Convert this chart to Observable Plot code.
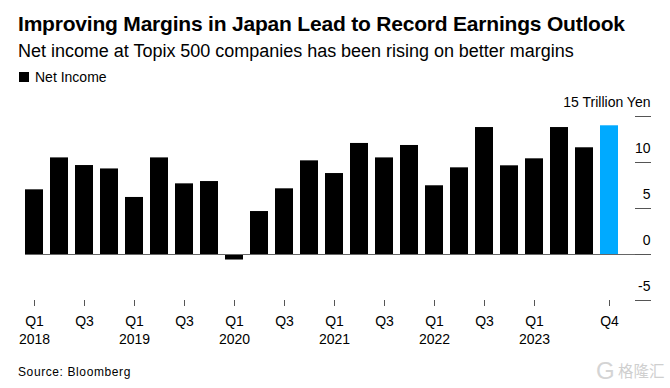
<!DOCTYPE html>
<html><head><meta charset="utf-8">
<script src="https://cdn.jsdelivr.net/npm/d3@7"></script>
<script src="https://cdn.jsdelivr.net/npm/@observablehq/plot@0.6"></script>
<style>
html,body{margin:0;padding:0;background:#fff;width:670px;height:388px;overflow:hidden;font-family:"Liberation Sans",Arial,sans-serif;color:#000}
#wrap{position:relative;width:670px;height:388px}
.t{position:absolute;white-space:nowrap}
#title{left:18px;top:11px;font-size:21px;font-weight:700;line-height:26px;letter-spacing:-.2px}
#sub{left:18px;top:39px;font-size:18px;line-height:24px;letter-spacing:-.02px}
#legend{left:19px;top:68px;font-size:14px;line-height:18px;display:flex;align-items:center}
#legend i{display:inline-block;width:10px;height:10px;background:#000;margin-right:6px}
#chart{position:absolute;left:0;top:92px}
#source{left:18px;top:364px;font-size:12px;line-height:16px;letter-spacing:.6px}
#mark{left:618px;top:360px;font-size:15.5px;line-height:20px;font-family:"Noto Sans CJK SC";font-weight:400;color:#cfcfcf}
#markg{left:596px;top:358px;font-size:24px;line-height:26px;font-weight:400;color:#d4d4d4}
svg text{font-family:"Liberation Sans",Arial,sans-serif}
</style></head><body>
<div id="wrap">
<div class="t" id="title">Improving Margins in Japan Lead to Record Earnings Outlook</div>
<div class="t" id="sub">Net income at Topix 500 companies has been rising on better margins</div>
<div class="t" id="legend"><i></i>Net Income</div>
<div id="chart"></div>
<div class="t" id="source">Source: Bloomberg</div>
<div class="t" id="markg">G</div>
<div class="t" id="mark">格隆汇</div>
</div>
<script>
const quarters = ["2018Q1","2018Q2","2018Q3","2018Q4","2019Q1","2019Q2","2019Q3","2019Q4","2020Q1","2020Q2","2020Q3","2020Q4","2021Q1","2021Q2","2021Q3","2021Q4","2022Q1","2022Q2","2022Q3","2022Q4","2023Q1","2023Q2","2023Q3","2023Q4"];
const netIncome = [7.03,10.5,9.67,9.3,6.2,10.5,7.68,7.93,-0.6,4.67,7.14,10.18,8.8,12.07,10.5,11.85,7.47,9.42,13.8,9.64,10.4,13.8,11.6,13.99];
const tickQuarters = ["2018Q1","2018Q3","2019Q1","2019Q3","2020Q1","2020Q3","2021Q1","2021Q3","2022Q1","2022Q3","2023Q1","2023Q4"];
const tickLabels = ["Q1\n2018","Q3","Q1\n2019","Q3","Q1\n2020","Q3","Q1\n2021","Q3","Q1\n2022","Q3","Q1\n2023","Q4"];
const yTicks = [15,10,5,0,-5];
const yLabels = ["15 Trillion Yen","10","5","0","-5"];
const highlight = "2023Q4";
const rows = quarters.map((q,i)=>({q,v:netIncome[i]}));

const plot = Plot.plot({
  width:670,height:262,marginTop:24,marginBottom:54,marginLeft:25,marginRight:20,
  x:{domain:quarters,range:[16.9,625.6],padding:0.3,label:null},
  y:{domain:[-5,15],label:null},
  marks:[
    Plot.barY(rows,{x:"q",y:"v",fill:d=>d.q===highlight?"#00aaff":"#000"}),
    Plot.ruleY([0],{stroke:"#666",strokeWidth:1}),
    Plot.axisY({anchor:"right",ticks:yTicks,tickSize:-16,stroke:"#555",text:null,label:null}),
    Plot.text(yTicks,{y:d=>d,text:(d,i)=>yLabels[i],frameAnchor:"right",dy:-14,fontSize:14,fill:"#000",textAnchor:"end"}),
    Plot.axisX({ticks:tickQuarters,tickFormat:d=>tickLabels[tickQuarters.indexOf(d)],tickSize:6,tickPadding:7,fontSize:14,lineHeight:1.27,stroke:"#555",fill:"#000",label:null,textAnchor:"middle"})
  ]
});
document.getElementById("chart").appendChild(plot);
</script>
</body></html>
